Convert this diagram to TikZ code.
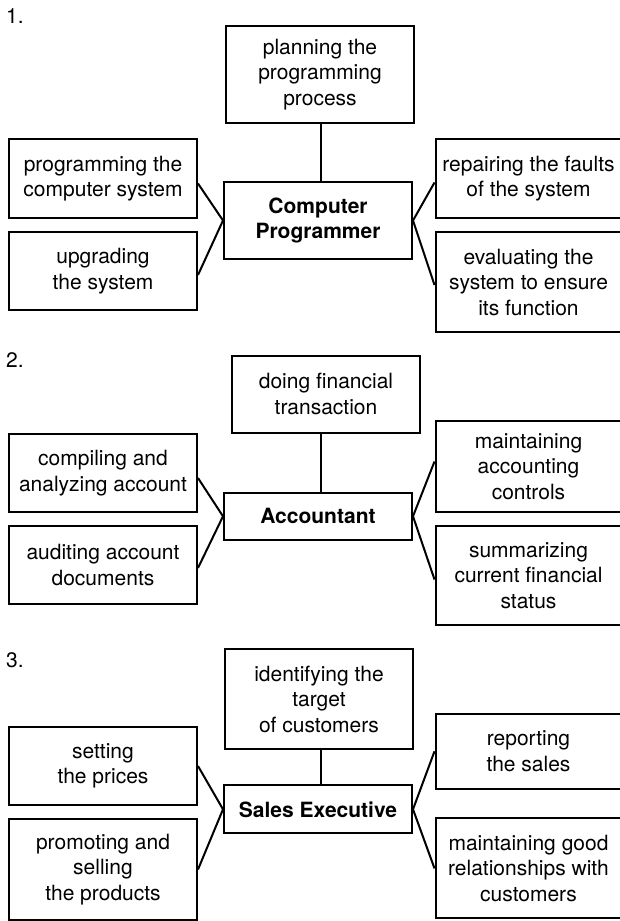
\documentclass[tikz,border=0pt]{standalone}
\usepackage{fontspec}
\setmainfont{TeX Gyre Heros}
\begin{document}
\begin{tikzpicture}[x=1pt, y=-1pt, box/.style={draw, line width=2pt, align=center, inner sep=0pt, minimum width=188pt, font=\fontsize{21}{25.5}\selectfont}, main/.style={box, font=\bfseries\fontsize{21}{25}\selectfont}, num/.style={anchor=base west, inner sep=0pt, font=\fontsize{21}{25}\selectfont}, link/.style={black, line width=2pt}]
            \useasboundingbox (0,0) rectangle (619,921);

            \node[num] (N1) at (6,23) {1.};
            \node[box, minimum height=97pt] (T1) at (320,74.5) {planning the\\programming\\process};
            \node[main, minimum height=77pt] (C1) at (318,220.5) {Computer\\Programmer};
            \node[box, minimum height=79pt] (LA1) at (103,178.5) {programming the\\computer system};
            \node[box, minimum height=78pt] (LB1) at (103,271) {upgrading\\the system};
            \node[box, minimum height=79pt, minimum width=186pt] (RA1) at (528.5,178.5) {repairing the faults\\of the system};
            \node[box, minimum height=100pt, minimum width=186pt] (RB1) at (528.5,282) {evaluating the\\system to ensure\\its function};

            \draw[link] ([xshift=3pt]C1.north) -- ([xshift=3pt]C1.north |- T1.south);
            \draw[link] ([yshift=-5pt]LA1.east) -- (C1.west);
            \draw[link] ([yshift=-4pt]LB1.east) -- (C1.west);
            \draw[link] (C1.east) -- ([yshift=-4pt]RA1.west);
            \draw[link] (C1.east) -- ([yshift=-3pt]RB1.west);

            \node[num] (N2) at (6,367) {2.};
            \node[box, minimum height=77pt] (T2) at (326,394) {doing financial\\transaction};
            \node[main, minimum height=47.5pt] (C2) at (318,516.3) {Accountant};
            \node[box, minimum height=78pt] (LA2) at (103,473) {compiling and\\analyzing account};
            \node[box, minimum height=78pt] (LB2) at (103,565) {auditing account\\documents};
            \node[box, minimum height=91pt, minimum width=186pt] (RA2) at (528.5,466.5) {maintaining\\accounting\\controls};
            \node[box, minimum height=99pt, minimum width=186pt] (RB2) at (528.5,575.5) {summarizing\\current financial\\status};

            \draw[link] ([xshift=3pt]C2.north) -- ([xshift=3pt]C2.north |- T2.south);
            \draw[link] ([yshift=-5pt]LA2.east) -- (C2.west);
            \draw[link] ([yshift=-3pt]LB2.east) -- (C2.west);
            \draw[link] (C2.east) -- ([yshift=5pt]RA2.west);
            \draw[link] (C2.east) -- ([yshift=-4pt]RB2.west);

            \node[num] (N3) at (6,667) {3.};
            \node[box, minimum height=100pt] (T3) at (319,699) {identifying the\\target\\of customers};
            \node[main, minimum height=48pt] (C3) at (318,809.3) {Sales Executive};
            \node[box, minimum height=78pt] (LA3) at (103,766) {setting\\the prices};
            \node[box, minimum height=101pt] (LB3) at (103,869.5) {promoting and\\selling\\the products};
            \node[box, minimum height=74.5pt, minimum width=186pt] (RA3) at (528.5,751.3) {reporting\\the sales};
            \node[box, minimum height=100pt, minimum width=186pt] (RB3) at (528.5,868.4) {maintaining good\\relationships with\\customers};

            \draw[link] ([xshift=3pt]C3.north) -- ([xshift=3pt]C3.north |- T3.south);
            \draw[link] (LA3.east) -- (C3.west);
            \draw[link] (LB3.east) -- (C3.west);
            \draw[link] (C3.east) -- (RA3.west);
            \draw[link] (C3.east) -- (RB3.west);
        \end{tikzpicture}
\end{document}
